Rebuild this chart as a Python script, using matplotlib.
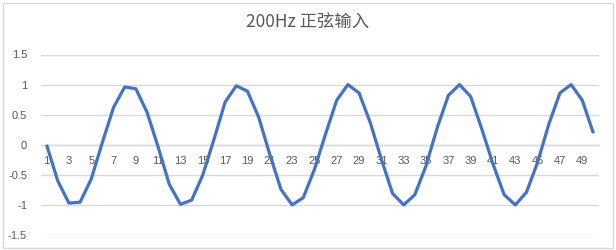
import matplotlib
matplotlib.use('Agg')
from matplotlib import pyplot as plt
from matplotlib.patches import Rectangle

# sample index and values
samples = list(range(1, 51))
values = [0.00, -0.60, -0.97, -0.955, -0.57, 0.04, 0.62, 0.96, 0.93, 0.54,
          -0.04, -0.66, -0.99, -0.92, -0.50, 0.09, 0.71, 0.98, 0.89, 0.46,
          -0.16, -0.74, -1.00, -0.88, -0.41, 0.18, 0.74, 1.00, 0.86, 0.37,
          -0.24, -0.81, -1.00, -0.83, -0.35, 0.28, 0.82, 1.00, 0.80, 0.26,
          -0.32, -0.83, -1.00, -0.79, -0.29, 0.34, 0.86, 1.00, 0.74, 0.19]
y_ticks = [-1.5, -1, -0.5, 0, 0.5, 1, 1.5]
y_labels = ['-1.5', '-1', '-0.5', '0', '0.5', '1', '1.5']
title = '200Hz 正弦输入'

grey = '#595959'
grid = '#D9D9D9'

fig = plt.figure(figsize=(6.16, 2.5), dpi=100)
ax = fig.add_axes([41/616, 15/250, 558/616, 180.5/250])

# chart border
fig.patches.append(Rectangle((3/616, 2/250), 610/616, 245/250, transform=fig.transFigure,
                             fill=False, edgecolor=grid, linewidth=1))

ax.plot(samples, values, color='#4472C4', linewidth=2.3, solid_joinstyle='round',
        solid_capstyle='butt', zorder=3)

ax.set_xlim(0.5, 50.5)
ax.set_ylim(-1.5, 1.5)
ax.set_yticks(y_ticks)
ax.set_yticklabels(y_labels)
ax.grid(axis='y', color=grid, linewidth=1)
ax.set_axisbelow(True)

# category axis crosses at zero, labels every other sample
ax.spines['bottom'].set_position(('data', 0))
ax.spines['bottom'].set_color(grid)
ax.spines['bottom'].set_linewidth(1)
for s in ['top', 'right', 'left']:
    ax.spines[s].set_visible(False)
ax.set_xticks(samples[::2])
ax.set_xticklabels([str(s) for s in samples[::2]])

ax.tick_params(axis='both', length=0, labelsize=8, labelcolor=grey)
ax.tick_params(axis='x', pad=8)
ax.tick_params(axis='y', pad=10)
for lab in ax.get_xticklabels() + ax.get_yticklabels():
    lab.set_family(['Liberation Sans', 'DejaVu Sans'])

fig.text(0.5, 0.91, title, ha='center', va='center', fontsize=12.5, color=grey,
         family=['Noto Sans CJK SC', 'DejaVu Sans'])

fig.savefig('out.png', dpi=100)
